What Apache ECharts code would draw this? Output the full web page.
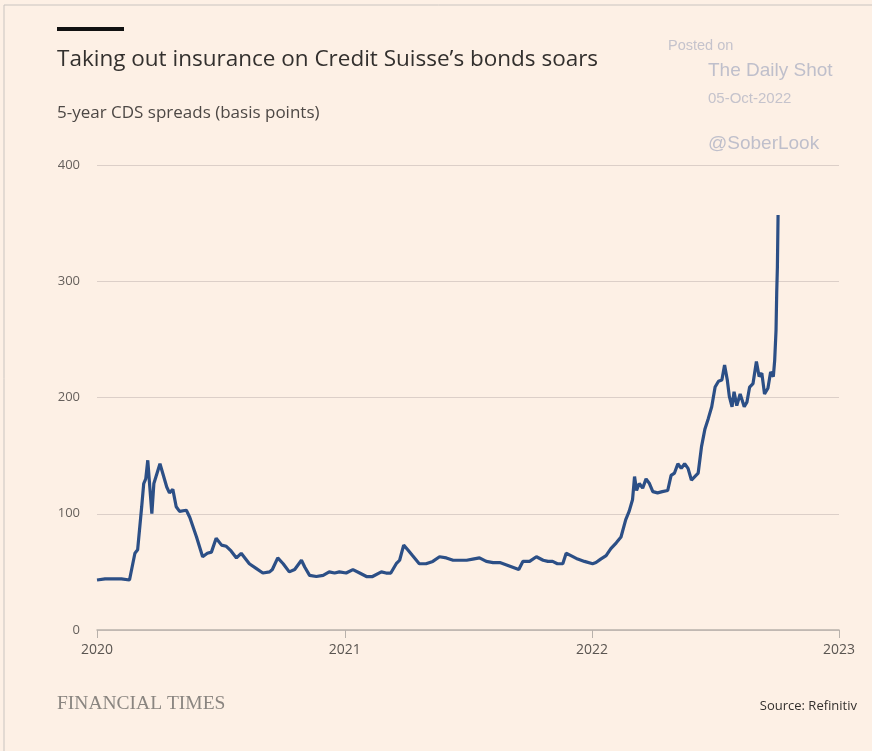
<!DOCTYPE html>
<html>
<head>
<meta charset="utf-8">
<script src="https://cdn.jsdelivr.net/npm/echarts@6/dist/echarts.min.js"></script>
<style>
html,body{margin:0;padding:0;background:#ffffff;}
#chart{width:872px;height:751px;}
</style>
</head>
<body>
<div id="chart"></div>
<script>
const dates = [
'2020-01-01','2020-01-13','2020-01-24','2020-02-06','2020-02-18','2020-02-26','2020-03-01','2020-03-07','2020-03-10','2020-03-13',
'2020-03-16','2020-03-19','2020-03-22','2020-03-25','2020-04-03','2020-04-07','2020-04-13','2020-04-17','2020-04-22','2020-04-27',
'2020-05-02','2020-05-12','2020-05-17','2020-05-27','2020-06-05','2020-06-12','2020-06-18','2020-06-25','2020-07-03','2020-07-10',
'2020-07-17','2020-07-25','2020-08-01','2020-08-13','2020-08-23','2020-09-02','2020-09-12','2020-09-16','2020-09-24','2020-10-02',
'2020-10-11','2020-10-19','2020-10-29','2020-11-03','2020-11-10','2020-11-20','2020-11-30','2020-12-09','2020-12-17','2020-12-24',
'2021-01-03','2021-01-13','2021-01-23','2021-02-02','2021-02-11','2021-02-24','2021-03-03','2021-03-10','2021-03-18','2021-03-23',
'2021-03-29','2021-04-04','2021-04-11','2021-04-21','2021-05-01','2021-05-11','2021-05-21','2021-05-31','2021-06-10','2021-06-20',
'2021-06-30','2021-07-09','2021-07-19','2021-07-29','2021-08-08','2021-08-18','2021-08-28','2021-09-06','2021-09-15','2021-09-21',
'2021-10-01','2021-10-11','2021-10-21','2021-10-28','2021-11-04','2021-11-11','2021-11-19','2021-11-24','2021-12-01','2021-12-11',
'2021-12-21','2022-01-02','2022-01-07','2022-01-14','2022-01-22','2022-01-29','2022-02-06','2022-02-13','2022-02-20','2022-02-25',
'2022-03-02','2022-03-05','2022-03-08','2022-03-12','2022-03-17','2022-03-22','2022-03-27','2022-04-01','2022-04-08','2022-04-15',
'2022-04-23','2022-04-28','2022-05-03','2022-05-08','2022-05-13','2022-05-18','2022-05-23','2022-05-28','2022-06-02','2022-06-07',
'2022-06-12','2022-06-17','2022-06-22','2022-06-27','2022-07-02','2022-07-07','2022-07-12','2022-07-16','2022-07-20','2022-07-23',
'2022-07-27','2022-07-30','2022-08-03','2022-08-08','2022-08-14','2022-08-18','2022-08-22','2022-08-27','2022-09-01','2022-09-05',
'2022-09-09','2022-09-13','2022-09-18','2022-09-22','2022-09-26','2022-09-28','2022-09-30','2022-10-01','2022-10-02','2022-10-03'
];
const cdsSpread = [
43,44,44,44,43,66,69,106,126,130,
146,123,100,126,143,135,123,118,121,106,
102,103,97,80,63,66,67,79,73,72,
68,62,66,57,53,49,50,52,62,57,
50,52,60,54,47,46,47,50,49,50,
49,52,49,46,46,50,49,49,57,60,
73,69,64,57,57,59,63,62,60,60,
60,61,62,59,58,58,56,54,52,59,
59,63,60,59,59,57,57,66,64,61,
59,57,58,61,64,70,75,80,95,102,
112,132,120,126,122,130,126,119,118,119,
120,133,135,143,139,143,139,129,132,135,
158,173,182,192,209,214,215,228,215,201,
192,205,193,203,192,196,209,212,231,218,
221,203,208,222,218,232,258,290,312,357
];
const yearTicks = ['2020','2021','2022','2023'];
const yTicks = [0,100,200,300,400];

const seriesData = dates.map((d,i)=>[d, cdsSpread[i]]);

const chart = echarts.init(document.getElementById('chart'));
chart.setOption({
  backgroundColor:'#fdf0e5',
  animation:false,
  textStyle:{fontFamily:'Open Sans'},
  graphic:[
    {type:'rect', shape:{x:4,y:5,width:900,height:800}, style:{fill:'none',stroke:'#c9c4c0',lineWidth:1}},
    {type:'rect', shape:{x:57,y:27,width:67,height:4}, style:{fill:'#111111'}},
    {type:'text', x:57, y:60, style:{text:"Taking out insurance on Credit Suisse’s bonds soars", font:'22.5px "Open Sans"', fill:'#33302e', verticalAlign:'middle'}},
    {type:'text', x:57, y:113, style:{text:'5-year CDS spreads (basis points)', font:'17px "Open Sans"', fill:'#4d4845', verticalAlign:'middle'}},
    {type:'text', x:668, y:46, style:{text:'Posted on', font:'14.5px "Liberation Sans"', fill:'#c5c3cc', verticalAlign:'middle'}},
    {type:'text', x:708, y:71, style:{text:'The Daily Shot', font:'19px "Liberation Sans"', fill:'#bfbfcb', verticalAlign:'middle'}},
    {type:'text', x:708, y:99, style:{text:'05-Oct-2022', font:'15px "Liberation Sans"', fill:'#c5c3cc', verticalAlign:'middle'}},
    {type:'text', x:708, y:144, style:{text:'@SoberLook', font:'19px "Liberation Sans"', fill:'#bfbfcb', verticalAlign:'middle'}},
    {type:'text', x:57, y:704, style:{text:'FINANCIAL TIMES', font:'19.5px "Liberation Serif"', fill:'#8a8580', verticalAlign:'middle'}},
    {type:'text', x:857, y:706, style:{text:'Source: Refinitiv', font:'13px "Open Sans"', fill:'#33302e', align:'right', verticalAlign:'middle'}}
  ],
  grid:{left:97, right:33, top:165, bottom:121, containLabel:false},
  xAxis:{
    type:'time',
    min:yearTicks[0]+'-01-01',
    max:yearTicks[yearTicks.length-1]+'-01-01',
    splitNumber:3,
    axisLine:{show:true, lineStyle:{color:'#b8b1ab', width:1.5}},
    axisTick:{show:true, length:8, lineStyle:{color:'#b8b1ab'}},
    axisLabel:{formatter:'{yyyy}', color:'#5a5551', fontSize:14, margin:13, showMinLabel:true, showMaxLabel:true},
    splitLine:{show:false}
  },
  yAxis:{
    type:'value',
    min:yTicks[0], max:yTicks[yTicks.length-1], interval:100,
    axisLine:{show:false}, axisTick:{show:false},
    axisLabel:{color:'#66605c', fontSize:13, margin:17},
    splitLine:{lineStyle:{color:'#dccfc8', width:1}}
  },
  series:[{
    type:'line',
    data:seriesData,
    showSymbol:false,
    lineStyle:{color:'#2c4f86', width:3.2},
    z:5
  }]
});
</script>
</body>
</html>
